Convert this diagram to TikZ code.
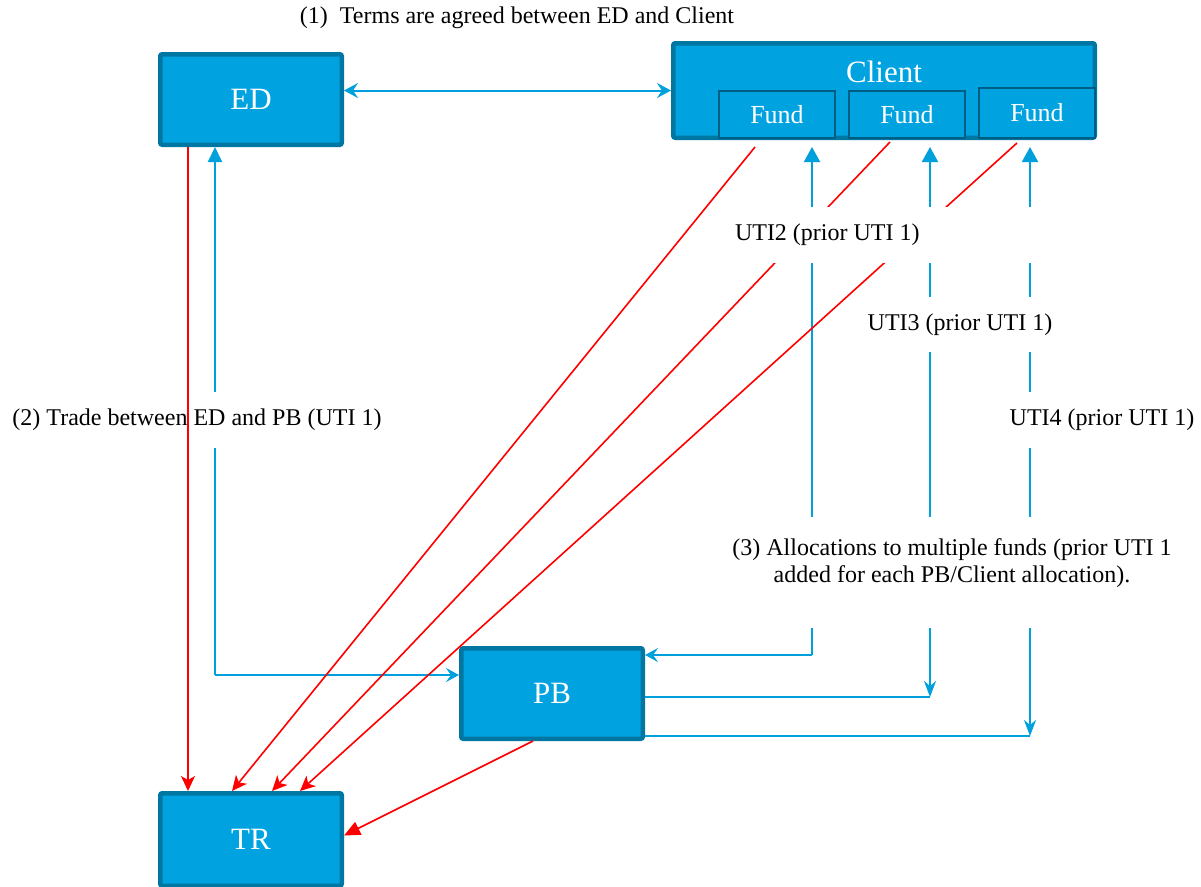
\documentclass[tikz,border=0pt]{standalone}
\usepackage{fontspec}
\setmainfont{Liberation Serif}
\usetikzlibrary{arrows.meta}
\definecolor{boxfill}{HTML}{00A2DF}
\definecolor{boxedge}{HTML}{0076A3}
\definecolor{fundedge}{HTML}{005E85}
\definecolor{flow}{HTML}{00A0DC}
\begin{document}
\begin{tikzpicture}[x=1pt,y=1pt]
\tikzstyle{every node}+=[inner sep=0pt]
\tikzstyle{party}=[draw=boxedge, fill=boxfill, line width=4.5pt, rounded corners=2pt, text=white, font=\fontsize{31}{31}\selectfont, minimum width=181.5pt, minimum height=90.5pt]
\tikzstyle{fund}=[draw=fundedge, fill=boxfill, line width=2pt, text=white, font=\fontsize{26}{26}\selectfont, minimum width=116pt, minimum height=47pt]
\tikzstyle{lbl}=[fill=white, font=\fontsize{24}{27}\selectfont]
\tikzstyle{bline}=[flow, line width=2pt]
\tikzstyle{rline}=[red, line width=1.6pt]
\useasboundingbox (0,0) rectangle (1201,-886);
\node[font=\fontsize{24}{27}\selectfont] (terms) at (517,-18) {(1)\ \ Terms are agreed between ED and Client};
\node[party] (ed) at (251,-99.5) {ED};
\node[party, minimum width=421.5pt, minimum height=94.5pt] (client) at (884,-90.5) {};
\node[text=white, font=\fontsize{31}{31}\selectfont] (clientname) at (884,-72) {Client};
\node[fund] (f1) at (777,-114.5) {Fund};
\node[fund] (f2) at (907,-114.5) {Fund};
\node[fund, minimum height=50pt] (f3) at (1037,-113) {Fund};
\node[party] (pb) at (552,-693.5) {PB};
\node[party, minimum height=92.5pt] (tr) at (251,-839.5) {TR};
\coordinate (edpb) at (215,-675);
\coordinate (a1) at (812,-655);
\coordinate (a2) at (930,-697);
\coordinate (a3) at (1030,-736);
\draw[bline, {Stealth[length=14pt,width=15pt,inset=5pt]}-{Stealth[length=14pt,width=15pt,inset=5pt]}] (client.west -| ed.east) -- (client.west);
\draw[bline, -{Triangle[length=15pt,width=14pt]}] (edpb) -- (edpb |- ed.south);
\draw[bline, -{Stealth[length=13pt,width=14pt,inset=5pt]}] (edpb) -- (edpb -| pb.west);
\draw[bline, -{Triangle[length=15pt,width=16pt]}, shorten >=8pt] (a1) -- (a1 |- f1.south);
\draw[bline, -{Stealth[length=13pt,width=14pt,inset=5pt]}] (a1) -- (a1 -| pb.east);
\draw[bline, {Stealth[length=16pt,width=12pt,inset=5pt]}-{Triangle[length=15pt,width=16pt]}, shorten >=8pt] (a2) -- (a2 |- f2.south);
\draw[bline] (a2 -| pb.east) -- (a2);
\draw[bline, {Stealth[length=16pt,width=12pt,inset=5pt]}-{Triangle[length=15pt,width=16pt]}, shorten >=8pt] (a3) -- (a3 |- f3.south);
\draw[bline] (a3 -| pb.east) -- (a3);
\draw[rline, -{Stealth[length=15pt,width=14pt,inset=4pt]}] ([xshift=-22pt,yshift=-8pt]f1.south) -- ([xshift=74pt]tr.north west);
\draw[rline, -{Stealth[length=15pt,width=14pt,inset=4pt]}] ([xshift=-17pt,yshift=-3pt]f2.south) -- ([xshift=114pt]tr.north west);
\draw[rline, -{Stealth[length=15pt,width=14pt,inset=4pt]}] ([xshift=-20pt,yshift=-4pt]f3.south) -- ([xshift=142pt]tr.north west);
\node[lbl, minimum width=385pt, minimum height=56pt] (trade) at (197,-420) {(2) Trade between ED and PB (UTI 1)};
\node[lbl, inner xsep=15pt, minimum height=56pt] (uti2) at (880,-235) {\makebox[290pt][l]{UTI2 (prior UTI 1)}};
\node[lbl, minimum width=210pt, minimum height=55pt] (uti3) at (960,-324.5) {UTI3 (prior UTI 1)};
\node[lbl, minimum width=195pt, minimum height=56pt] (uti4) at (1102,-420) {UTI4 (prior UTI 1)};
\node[lbl, minimum width=455pt, text height=65pt, text depth=46pt] (alloc) at (952,-572.5) {\begin{tabular}[b]{@{}c@{}}(3) Allocations to multiple funds (prior UTI 1\\added for each PB/Client allocation).\end{tabular}};
\draw[rline, -{Stealth[length=15pt,width=14pt,inset=4pt]}] ([xshift=30pt]ed.south west) -- ([xshift=30pt]tr.north west);
\draw[rline, -{Triangle[length=16pt,width=14pt]}] ([xshift=-19pt]pb.south) -- ([yshift=4pt]tr.east);
\end{tikzpicture}
\end{document}
